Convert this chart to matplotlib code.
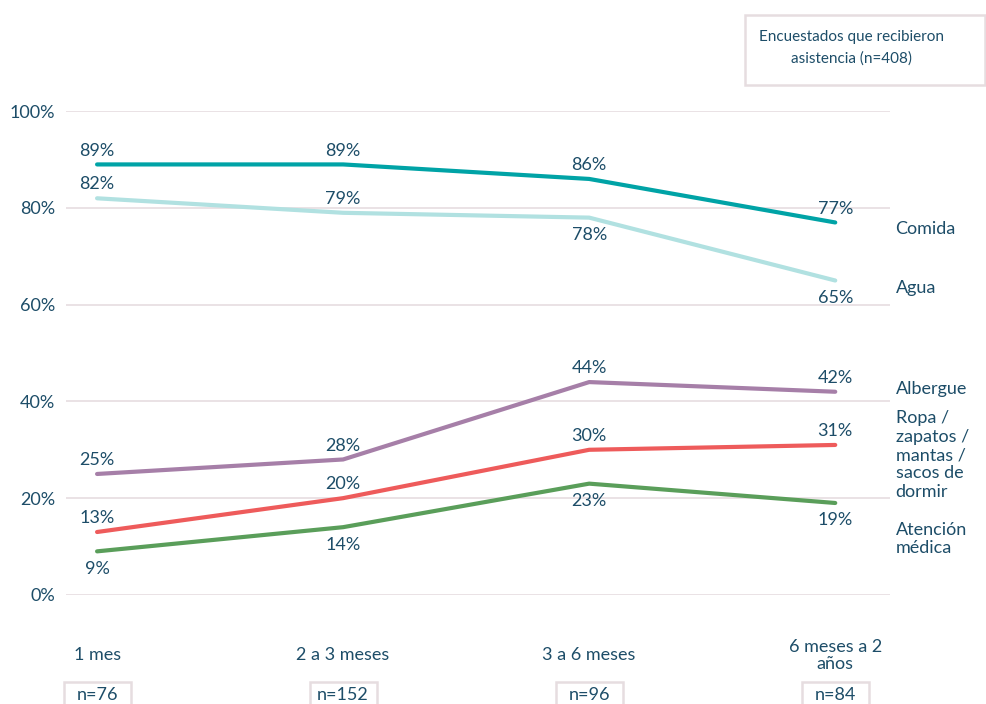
import matplotlib.pyplot as plt
from matplotlib.patches import Rectangle
import numpy as np

plt.rcParams['font.family'] = ['Lato', 'DejaVu Sans']

categories = ['1 mes', '2 a 3 meses', '3 a 6 meses', '6 meses a 2\naños']
n_labels = ['n=76', 'n=152', 'n=96', 'n=84']
series_names = ['Comida', 'Agua', 'Albergue',
                'Ropa /\nzapatos /\nmantas /\nsacos de\ndormir',
                'Atención\nmédica']
comida = [89, 89, 86, 77]
agua = [82, 79, 78, 65]
albergue = [25, 28, 44, 42]
ropa = [13, 20, 30, 31]
atencion = [9, 14, 23, 19]

text_col = '#1d4d68'
grid_col = '#e6dde0'
colors = ['#00a3a6', '#b1e1e1', '#a67fa8', '#ee5b5b', '#5a9e5a']
# label above (+1) or below (-1) for each point
positions = [
    [1, 1, 1, 1],
    [1, 1, -1, -1],
    [1, 1, 1, 1],
    [1, 1, 1, 1],
    [-1, -1, -1, -1],
]
right_y = [75.6, 63.4, 42.6, 28.9, 11.6]
fs = 13

fig = plt.figure(figsize=(9.86, 7.04), dpi=100)
ax = fig.add_axes([0.067, 0.155, 0.836, 0.687])
x = np.arange(len(categories))

data = [comida, agua, albergue, ropa, atencion]
for vals, col, pos, name, ry in zip(data, colors, positions, series_names, right_y):
    ax.plot(x, vals, color=col, lw=3, solid_capstyle='round', zorder=3)
    for xi, v, p in zip(x, vals, pos):
        off = 10 if p > 0 else -12.5
        ax.annotate(f'{v}%', (xi, v), xytext=(0, off), textcoords='offset points',
                    ha='center', va='center', fontsize=fs, color=text_col)
    ax.text(3.245, ry, name, ha='left', va='center', fontsize=fs,
            color=text_col, linespacing=1.18, clip_on=False)

ax.set_xlim(-0.126, 3.224)
ax.set_ylim(0, 100)
ax.set_yticks([0, 20, 40, 60, 80, 100])
ax.set_yticklabels([f'{t}%' for t in [0, 20, 40, 60, 80, 100]])
ax.tick_params(axis='y', length=0, labelsize=fs, labelcolor=text_col, pad=8)
ax.set_xticks([])
ax.grid(axis='y', color=grid_col, lw=1.2)
ax.set_axisbelow(True)
for s in ax.spines.values():
    s.set_visible(False)

# category names and sample-size boxes under the plot
for xi, cat, nl in zip(x, categories, n_labels):
    ax.text(xi, -12.5, cat, ha='center', va='center', fontsize=fs,
            color=text_col, linespacing=1.1, clip_on=False)
    ax.add_patch(Rectangle((xi - 0.136, -26), 0.272, 8, fc='white', ec=grid_col,
                           lw=1.8, clip_on=False))
    ax.text(xi, -20.7, nl, ha='center', va='center', fontsize=fs,
            color=text_col, clip_on=False)

fig.patches.append(Rectangle((0.7556, 0.879), 0.2434, 0.1, transform=fig.transFigure,
                             fc='white', ec=grid_col, lw=1.8))
fig.text(0.864, 0.932, 'Encuestados que recibieron\nasistencia (n=408)',
         ha='center', va='center', multialignment='center', fontsize=11,
         color=text_col, linespacing=1.6)

fig.savefig('out.png', dpi=100)
